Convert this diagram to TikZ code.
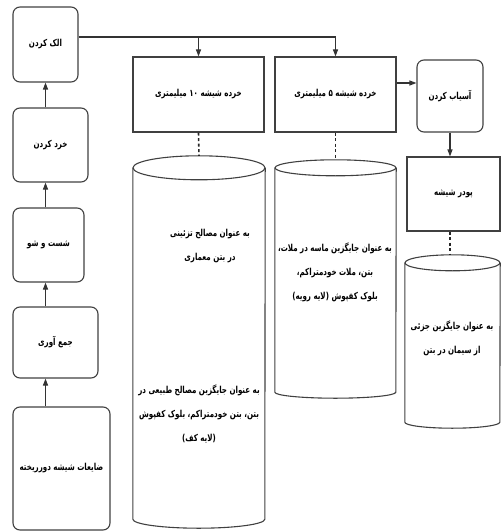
\documentclass[tikz,border=0pt]{standalone}
\usepackage{fontspec}
\usetikzlibrary{arrows.meta}
\newfontfamily\arabicfont[Script=Arabic,FakeStretch=0.74]{DejaVu Sans Bold}
\TeXXeTstate=1
\newcommand{\fa}[1]{\beginR #1\endR}
% outline of a standing cylinder round a named box
\newcommand{\drawstore}[4]{%
  \draw[storeline] ([yshift=-#3]#1.north west) -- ([yshift=#4]#1.south west)
    arc[start angle=180,end angle=360,x radius=#2,y radius=#4]
    -- ([yshift=-#3]#1.north east);
  \draw[storeline] ([yshift=-#3]#1.north) ellipse[x radius=#2,y radius=#3];}

\begin{document}
\begin{tikzpicture}[x=1pt,y=-1pt,
    every node/.style={font=\arabicfont\fontsize{9.6}{24}\selectfont,align=center,inner sep=0pt},
    stage/.style={draw=black!75,line width=1.1pt,rounded corners=7pt},
    sizebox/.style={draw=black!75,line width=1.1pt},
    store/.style={minimum width=#1,inner sep=0pt},
    storeline/.style={draw=black!75,line width=1.1pt},
    arr/.style={draw=black!80,line width=1.1pt,-{Triangle[length=7pt,width=5pt]}},
    link/.style={draw=black!85,line width=1.6pt,dash pattern=on 3pt off 2.5pt}]
    \useasboundingbox (0,0) rectangle (503,532);

    %Stages
    \node[stage,minimum width=65pt,minimum height=75pt] (sieve) at (45.5,44.5) {\fa{الک کردن}};
    \node[stage,minimum width=75pt,minimum height=74pt] (crush) at (50.5,145) {\fa{خرد کردن}};
    \node[stage,minimum width=71pt,minimum height=74pt] (wash) at (48.5,245) {\fa{شست و شو}};
    \node[stage,minimum width=85pt,minimum height=71pt] (collect) at (55.5,342.5) {\fa{جمع آوری}};
    \node[stage,minimum width=97pt,minimum height=123pt] (waste) at (61.5,468.5) {\fa{ضایعات شیشه دورریخته}};

    \draw[arr] (waste.north -| sieve) -- (collect.south -| sieve);
    \draw[arr] (collect.north -| sieve) -- (wash.south -| sieve);
    \draw[arr] (wash.north -| sieve) -- (crush.south -| sieve);
    \draw[arr] (crush.north -| sieve) -- (sieve.south);

    %Sizes
    \node[sizebox,minimum width=131pt,minimum height=75pt] (ten) at (198.5,94.5) {\fa{خرده شیشه ۱۰ میلیمتری}};
    \node[sizebox,minimum width=121pt,minimum height=75pt] (five) at (335.5,94.5) {\fa{خرده شیشه ۵ میلیمتری}};
    \node[stage,minimum width=66pt,minimum height=72pt] (grind) at (450,96) {\fa{آسیاب کردن}};
    \node[sizebox,minimum width=93pt,minimum height=74pt] (powder) at (453.5,194) {\fa{پودر شیشه}};

    \coordinate (junc) at ([yshift=7.5pt]sieve.east);
    \draw[arr] (junc) -| (five.north);
    \draw[arr] (junc -| ten.north) -- (ten.north);
    \coordinate (toGrind) at ([yshift=11.5pt]five.east);
    \draw[arr] (toGrind) -- (toGrind -| grind.west);
    \draw[arr] (grind.south) -- (grind.south |- powder.north);

    %Uses
    \node[store=132pt,minimum height=372pt] (cylten) at (199,342) {};
    \node[store=121pt,minimum height=238pt] (cylfive) at (335.5,279) {};
    \node[store=95pt,minimum height=173pt] (cylpowder) at (452.5,341.5) {};
    \drawstore{cylten}{66pt}{12pt}{9pt}
    \drawstore{cylfive}{60.5pt}{8pt}{6pt}
    \drawstore{cylpowder}{47.5pt}{8pt}{6pt}

    \draw[link] (ten.south) -- (cylten.north);
    \draw[link] (five.south) -- (cylfive.north);
    \draw[link] (powder.south -| grind) -- (cylpowder.north -| grind);

    \node (tenA) at (210,246) {\fa{به عنوان مصالح تزئینی}\\\fa{در بتن معماری}};
    \node (tenB) at (199,414) {\fa{به عنوان جایگزین مصالح طبیعی در}\\\fa{بتن، بتن خودمتراکم، بلوک کفپوش}\\\fa{(لایه کف)}};
    \node (fiveA) at (335,272) {\fa{به عنوان جایگزین ماسه در ملات،}\\\fa{بتن، ملات خودمتراکم،}\\\fa{بلوک کفپوش (لایه رویه)}};
    \node (powderA) at (452,338) {\fa{به عنوان جایگزین جزئی}\\\fa{از سیمان در بتن}};
\end{tikzpicture}
\end{document}
